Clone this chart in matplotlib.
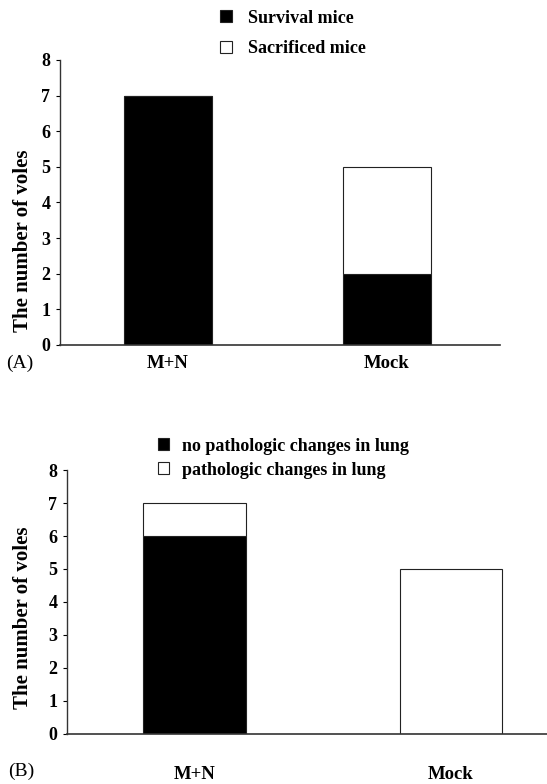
import matplotlib.pyplot as plt
import numpy as np

plt.rcParams['font.family'] = ['Liberation Serif', 'DejaVu Serif']

# data
groups = ['M+N', 'Mock']
survival = [7, 2]
sacrificed = [0, 3]
no_patho = [6, 0]
patho = [1, 5]

legend_a = ['Survival mice', 'Sacrificed mice']
legend_b = ['no pathologic changes in lung', 'pathologic changes in lung']

fig = plt.figure(figsize=(5.47, 7.84), dpi=100)
x = np.arange(len(groups))


def style_axes(ax, xmin, xmax, pad, label_xy):
    ax.set_xlim(xmin, xmax)
    ax.set_ylim(0, 8)
    ax.set_yticks(range(0, 9))
    ax.set_xticks(x)
    ax.set_xticklabels(groups, fontsize=13.5, fontweight='bold')
    for lab in ax.get_yticklabels():
        lab.set_fontweight('bold')
        lab.set_fontsize(13)
    ax.tick_params(axis='x', length=0, pad=pad)
    ax.tick_params(axis='y', length=3, width=0.8, pad=4, direction='out')
    ax.spines['top'].set_visible(False)
    ax.spines['right'].set_visible(False)
    ax.spines['left'].set_color('#333333')
    ax.spines['bottom'].set_color('#333333')
    ax.spines['left'].set_linewidth(1)
    ax.spines['bottom'].set_linewidth(1.2)
    ax.set_ylabel('The number of voles', fontsize=15, fontweight='bold')
    ax.yaxis.set_label_coords(*label_xy)


# panel A
ax1 = fig.add_axes([0.1097, 0.560, 0.804, 0.3635])
b1 = ax1.bar(x, survival, width=0.4, color='black', edgecolor='#222222', linewidth=0.8)
b2 = ax1.bar(x, sacrificed, width=0.4, bottom=survival, color='white', edgecolor='#222222', linewidth=0.8)
style_axes(ax1, -0.493, 1.516, 7, (-0.062, 0.365))
fig.legend([b1, b2], legend_a, loc='upper left', bbox_to_anchor=(0.38, 1.004),
           frameon=False, prop={'weight': 'bold', 'size': 13},
           handlelength=0.65, handleheight=0.65, handletextpad=0.9,
           labelspacing=0.75, borderpad=0.2)
fig.text(0.012, 0.537, '(A)', fontsize=14, va='center', ha='left')

# panel B
ax2 = fig.add_axes([0.1225, 0.0638, 0.8775, 0.3367])
c1 = ax2.bar(x, no_patho, width=0.4, color='black', edgecolor='#222222', linewidth=0.8)
c2 = ax2.bar(x, patho, width=0.4, bottom=no_patho, color='white', edgecolor='#222222', linewidth=0.8)
style_axes(ax2, -0.497, 1.374, 23, (-0.071, 0.44))
fig.legend([c1, c2], legend_b, loc='upper left', bbox_to_anchor=(0.265, 0.458),
           frameon=False, prop={'weight': 'bold', 'size': 13},
           handlelength=0.65, handleheight=0.65, handletextpad=0.7,
           labelspacing=0.4, borderpad=0.2)
fig.text(0.014, 0.016, '(B)', fontsize=14, va='center', ha='left')

fig.savefig('out.png', dpi=100)
